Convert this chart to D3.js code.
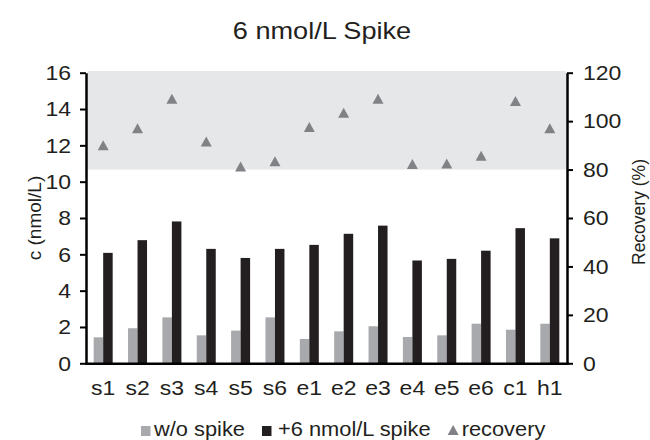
<!DOCTYPE html>
<html><head><meta charset="utf-8">
<script src="https://cdn.jsdelivr.net/npm/d3@7"></script>
<style>body{margin:0;background:#fff}</style>
</head><body><svg id="c" width="650" height="440"></svg>
<script>
const categories = ["s1","s2","s3","s4","s5","s6","e1","e2","e3","e4","e5","e6","c1","h1"];
const withoutSpike = [1.43,1.93,2.53,1.54,1.80,2.53,1.34,1.76,2.04,1.45,1.54,2.18,1.85,2.18];
const withSpike = [6.08,6.78,7.81,6.30,5.80,6.30,6.52,7.13,7.58,5.66,5.75,6.20,7.44,6.88];
const recovery = [90.0,97.1,109.2,91.6,81.3,83.4,97.6,103.5,109.2,82.3,82.5,85.7,108.3,97.1];
const leftTicks = [0,2,4,6,8,10,12,14,16];
const rightTicks = [0,20,40,60,80,100,120];
const acceptRange = [80, 120.7];
const seriesNames = ["w/o spike", "+6 nmol/L spike", "recovery"];
const titleText = "6 nmol/L Spike";
const leftLabel = "c (nmol/L)";
const rightLabel = "Recovery (%)";

const COLORS = {gray:"#a7a9ac", black:"#231f20", tri:"#808285", band:"#e6e7e8"};
const FONT = "'Liberation Sans', Arial, Helvetica, sans-serif";
const SX = 1.18, SXL = 1.12;

const svg = d3.select("#c");
const x = d3.scaleBand().domain(categories).range([86, 567]);
const yL = d3.scaleLinear().domain([0,16]).range([363.3, 72.7]);
const yR = d3.scaleLinear().domain([0,120]).range([363.3, 72.7]);
const bw = 9.5;

// acceptance band
svg.append("rect")
  .attr("x", 87.5).attr("width", 566 - 87.5)
  .attr("y", yR(acceptRange[1])).attr("height", yR(acceptRange[0]) - yR(acceptRange[1]))
  .attr("fill", COLORS.band);

const cx = d => x(d) + x.bandwidth()/2;

// bars
svg.append("g").selectAll("rect").data(categories).join("rect")
  .attr("x", d => cx(d) - bw).attr("width", bw)
  .attr("y", (d,i) => yL(withoutSpike[i])).attr("height", (d,i) => yL(0) - yL(withoutSpike[i]))
  .attr("fill", COLORS.gray);
svg.append("g").selectAll("rect").data(categories).join("rect")
  .attr("x", d => cx(d)).attr("width", bw)
  .attr("y", (d,i) => yL(withSpike[i])).attr("height", (d,i) => yL(0) - yL(withSpike[i]))
  .attr("fill", COLORS.black);

// triangles
const tri = (w,h) => `M0,${-h/2}L${w/2},${h/2}L${-w/2},${h/2}Z`;
svg.append("g").selectAll("path").data(categories).join("path")
  .attr("transform", (d,i) => `translate(${cx(d)},${yR(recovery[i])})`)
  .attr("d", tri(11,10))
  .attr("fill", COLORS.tri);

function styleAxis(g){
  g.select(".domain").attr("stroke", "#000").attr("stroke-width", 2.5);
  g.selectAll(".tick line").attr("stroke", "#000").attr("stroke-width", 2);
  g.selectAll("text").attr("font-family", FONT).attr("fill", "#231f20");
}

// left axis
const gL = svg.append("g").attr("transform", "translate(86,0)")
  .call(d3.axisLeft(yL).tickValues(leftTicks).tickSize(6).tickSizeOuter(0));
styleAxis(gL);
gL.selectAll(".tick text").attr("font-size", 19.5).attr("x", -15/SX).attr("dy", "0.35em")
  .attr("transform", `scale(${SX},1)`);

// right axis
const gR = svg.append("g").attr("transform", "translate(567,0)")
  .call(d3.axisRight(yR).tickValues(rightTicks).tickSize(6).tickSizeOuter(0));
styleAxis(gR);
gR.selectAll(".tick text").attr("font-size", 19.5).attr("x", 16/SX).attr("dy", "0.35em")
  .attr("transform", `scale(${SX},1)`);

// bottom axis
const gB = svg.append("g").attr("transform", `translate(0,${yL(0)})`)
  .call(d3.axisBottom(x).tickSize(0).tickSizeOuter(0));
styleAxis(gB);
gB.select(".domain").attr("stroke-linecap","square");
gB.selectAll(".tick text").attr("font-size", 19.5).attr("y", 32).attr("dy", 0)
  .attr("transform", `scale(${SX},1)`);

// title
svg.append("text").attr("transform", `translate(322,38.5) scale(${SX},1)`)
  .attr("text-anchor","middle").attr("font-family",FONT).attr("font-size",23)
  .attr("fill","#231f20").text(titleText);

// axis titles
svg.append("text").attr("transform", "translate(41,218) rotate(-90)")
  .attr("text-anchor","middle").attr("font-family",FONT).attr("font-size",19)
  .attr("fill","#231f20").text(leftLabel);
svg.append("text").attr("transform", "translate(645,212) rotate(-90)")
  .attr("text-anchor","middle").attr("font-family",FONT).attr("font-size",17.5)
  .attr("fill","#231f20").text(rightLabel);

// legend
const legend = svg.append("g");
const markerColors = [COLORS.gray, COLORS.black, COLORS.tri];
let lx = 141;
const ly = 436;
seriesNames.forEach((name, i) => {
  if (i < 2) {
    legend.append("rect").attr("x", lx).attr("y", ly - 10).attr("width", 9.5).attr("height", 10)
      .attr("fill", markerColors[i]);
  } else {
    legend.append("path").attr("transform", `translate(${lx+5.5},${ly-6})`)
      .attr("d", tri(11,10)).attr("fill", markerColors[i]);
  }
  const tx = lx + (i === 0 ? 13 : (i === 1 ? 16 : 14));
  const t = legend.append("text").attr("transform", `translate(${tx},${ly}) scale(${SXL},1)`)
    .attr("font-family",FONT).attr("font-size",19.5).attr("fill","#231f20").text(name);
  lx = tx + t.node().getComputedTextLength()*SXL + 17;
});
</script></body></html>
